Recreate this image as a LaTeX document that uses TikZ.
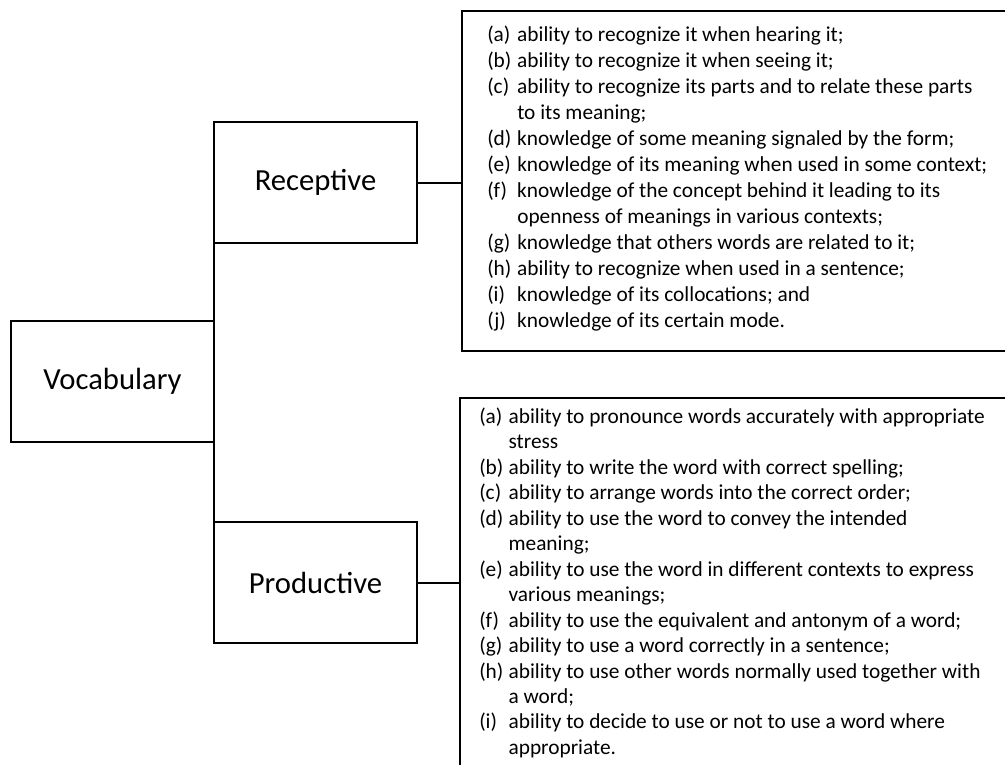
\documentclass[tikz,border=0pt]{standalone}
\usepackage{fontspec}
\setmainfont{Carlito}
\usetikzlibrary{positioning}

\begin{document}
\begin{tikzpicture}[x=0.75pt,y=-0.75pt,
  box/.style={rectangle,draw,line width=1.5pt,outer sep=0pt,minimum width=152.25pt,minimum height=90.75pt,font=\fontsize{23}{27}\selectfont},
  listbox/.style={rectangle,draw,line width=2pt,outer sep=0pt,anchor=north west,minimum width=420pt},
  listtext/.style={anchor=base west,inner sep=0pt,font=\fontsize{16}{19.5}\selectfont},
  link/.style={line width=1.5pt}]
  \useasboundingbox (0,0) rectangle (1005,764);
  \clip (0,0) rectangle (1005,764);
  \node[box] (vocab) at (112.5,381.5) {Vocabulary};
  \node[box,above right=58.5pt and 0pt of vocab.north east] (recep) {Receptive};
  \node[box,below right=60pt and 0pt of vocab.south east] (prod) {Productive};
  \node[listbox,minimum height=255pt] (reclist) at (462,11) {};
  \node[listbox,minimum height=287pt] (prodlist) at (460,398) {};
  \node[listtext] (rectext) at ([xshift=18.75pt,yshift=-22.5pt]reclist.north west) {%
    \begin{tabular}[t]{@{}p{22.5pt}@{}l@{}}
      (a) & ability to recognize it when hearing it; \\
      (b) & ability to recognize it when seeing it; \\
      (c) & ability to recognize its parts and to relate these parts \\
          & to its meaning; \\
      (d) & knowledge of some meaning signaled by the form; \\
      (e) & knowledge of its meaning when used in some context; \\
      (f) & knowledge of the concept behind it leading to its \\
          & openness of meanings in various contexts; \\
      (g) & knowledge that others words are related to it; \\
      (h) & ability to recognize when used in a sentence; \\
      (i) & knowledge of its collocations; and \\
      (j) & knowledge of its certain mode.
    \end{tabular}};
  \node[listtext,font=\fontsize{16}{19.1}\selectfont] (prodtext) at ([xshift=14.25pt,yshift=-19pt]prodlist.north west) {%
    \begin{tabular}[t]{@{}p{22pt}@{}l@{}}
      (a) & ability to pronounce words accurately with appropriate \\
          & stress \\
      (b) & ability to write the word with correct spelling; \\
      (c) & ability to arrange words into the correct order; \\
      (d) & ability to use the word to convey the intended \\
          & meaning; \\
      (e) & ability to use the word in different contexts to express \\
          & various meanings; \\
      (f) & ability to use the equivalent and antonym of a word; \\
      (g) & ability to use a word correctly in a sentence; \\
      (h) & ability to use other words normally used together with \\
          & a word; \\
      (i) & ability to decide to use or not to use a word where \\
          & appropriate.
    \end{tabular}};
  \draw[link] (recep.south west) -- (prod.north west);
  \draw[link] (recep.east) -- (recep.east -| reclist.west);
  \draw[link] (prod.east) -- (prod.east -| prodlist.west);
\end{tikzpicture}
\end{document}
